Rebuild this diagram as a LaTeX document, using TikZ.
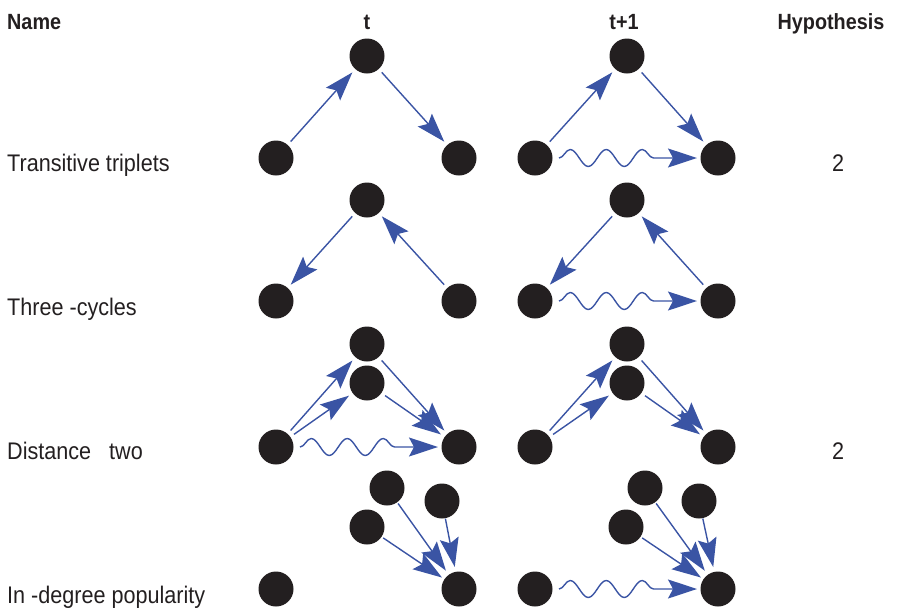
\documentclass[tikz,border=0pt]{standalone}
\usepackage{fontspec}
\setmainfont{Liberation Sans}[FakeStretch=0.9]
\usetikzlibrary{arrows.meta,decorations.pathmorphing}
\definecolor{dotc}{RGB}{35,31,32}
\definecolor{edgec}{RGB}{58,84,164}
\begin{document}
\begin{tikzpicture}[x=1pt,y=-1pt,
  dot/.style={circle,fill=dotc,minimum size=35pt,inner sep=0pt,outer sep=0pt},
  tip/.style={-{Stealth[length=29pt,width=19pt,inset=5pt,fill=edgec]}},
  arr/.style={draw=edgec,line width=1.4pt,tip,shorten <=4.5pt,shorten >=4.5pt},
  wavy/.style={draw=edgec,line width=1.4pt,tip,decorate,decoration={snake,amplitude=8.5pt,segment length=36pt,post length=31pt}},
  lab/.style={anchor=base west,font=\fontsize{24}{28}\selectfont,text=dotc,inner sep=0pt},
  head/.style={anchor=base,font=\fontsize{22}{26}\selectfont\bfseries,text=dotc,inner sep=0pt},
  hyp/.style={anchor=base,font=\fontsize{24}{28}\selectfont,text=dotc,inner sep=0pt}]
\useasboundingbox (0,0) rectangle (897,611);
% headers
\node[head,anchor=base west] (hname) at (7,29) {Name};
\node[head] (ht) at (367,29) {t};
\node[head] (ht1) at (624,29) {t+1};
\node[head] (hhyp) at (831,29) {Hypothesis};
% row labels
\node[lab] (n1) at (7,171) {Transitive triplets};
\node[lab] (n2) at (7,315) {Three -cycles};
\node[lab] (n3) at (7,459) {Distance\hspace{12pt} two};
\node[lab] (n4) at (7,603) {In -degree popularity};
\node[hyp] (h1) at (838,171) {2};
\node[hyp] (h3) at (838,459) {2};
% Row 1
\node[dot] (aL) at (276,158) {};
\node[dot] (aT) at (367,56) {};
\node[dot] (aR) at (459,158) {};
\node[dot] (bL) at (535,158) {};
\node[dot] (bT) at (627,56) {};
\node[dot] (bR) at (718,158) {};
\draw[arr] (aL) -- (aT);
\draw[arr] (aT) -- (aR);
\draw[arr] (bL) -- (bT);
\draw[arr] (bT) -- (bR);
\draw[wavy] ([xshift=6.5pt]bL.east) -- ([xshift=-3.5pt]bR.west);
% Row 2
\node[dot] (cL) at (276,301) {};
\node[dot] (cT) at (367,200) {};
\node[dot] (cR) at (459,301) {};
\node[dot] (dL) at (535,301) {};
\node[dot] (dT) at (627,200) {};
\node[dot] (dR) at (718,301) {};
\draw[arr] (cT) -- (cL);
\draw[arr] (cR) -- (cT);
\draw[arr] (dT) -- (dL);
\draw[arr] (dR) -- (dT);
\draw[wavy] ([xshift=6.5pt]dL.east) -- ([xshift=-3.5pt]dR.west);
% Row 3
\node[dot] (eL) at (276,447) {};
\node[dot] (eT) at (367,344) {};
\node[dot] (eM) at (367,383) {};
\node[dot] (eR) at (459,447) {};
\node[dot] (fL) at (535,447) {};
\node[dot] (fT) at (627,344) {};
\node[dot] (fM) at (627,383) {};
\node[dot] (fR) at (718,447) {};
\draw[arr] (eL) -- (eT);
\draw[arr] (eL) -- (eM);
\draw[arr] (eT) -- (eR);
\draw[arr] (eM) -- (eR);
\draw[arr] (fL) -- (fT);
\draw[arr] (fL) -- (fM);
\draw[arr] (fT) -- (fR);
\draw[arr] (fM) -- (fR);
\draw[wavy] ([xshift=6.5pt]eL.east) -- ([xshift=-3.5pt]eR.west);
% Row 4
\node[dot] (gA) at (387,488) {};
\node[dot] (gB) at (442,501) {};
\node[dot] (gC) at (367,527) {};
\node[dot] (gL) at (276,589) {};
\node[dot] (gR) at (459,589) {};
\node[dot] (hA) at (645,488) {};
\node[dot] (hB) at (699,501) {};
\node[dot] (hC) at (626,527) {};
\node[dot] (hL) at (535,589) {};
\node[dot] (hR) at (718,589) {};
\draw[arr,shorten <=1.5pt,shorten >=5pt] (gA) -- (gR);
\draw[arr,shorten <=0.5pt,shorten >=5pt] (gB) -- (gR);
\draw[arr,shorten <=2pt,shorten >=3pt] (gC) -- (gR);
\draw[arr,shorten <=1.5pt,shorten >=5pt] (hA) -- (hR);
\draw[arr,shorten <=0.5pt,shorten >=5pt] (hB) -- (hR);
\draw[arr,shorten <=2pt,shorten >=3pt] (hC) -- (hR);
\draw[wavy] ([xshift=6.5pt]hL.east) -- ([xshift=-3.5pt]hR.west);
\end{tikzpicture}
\end{document}
